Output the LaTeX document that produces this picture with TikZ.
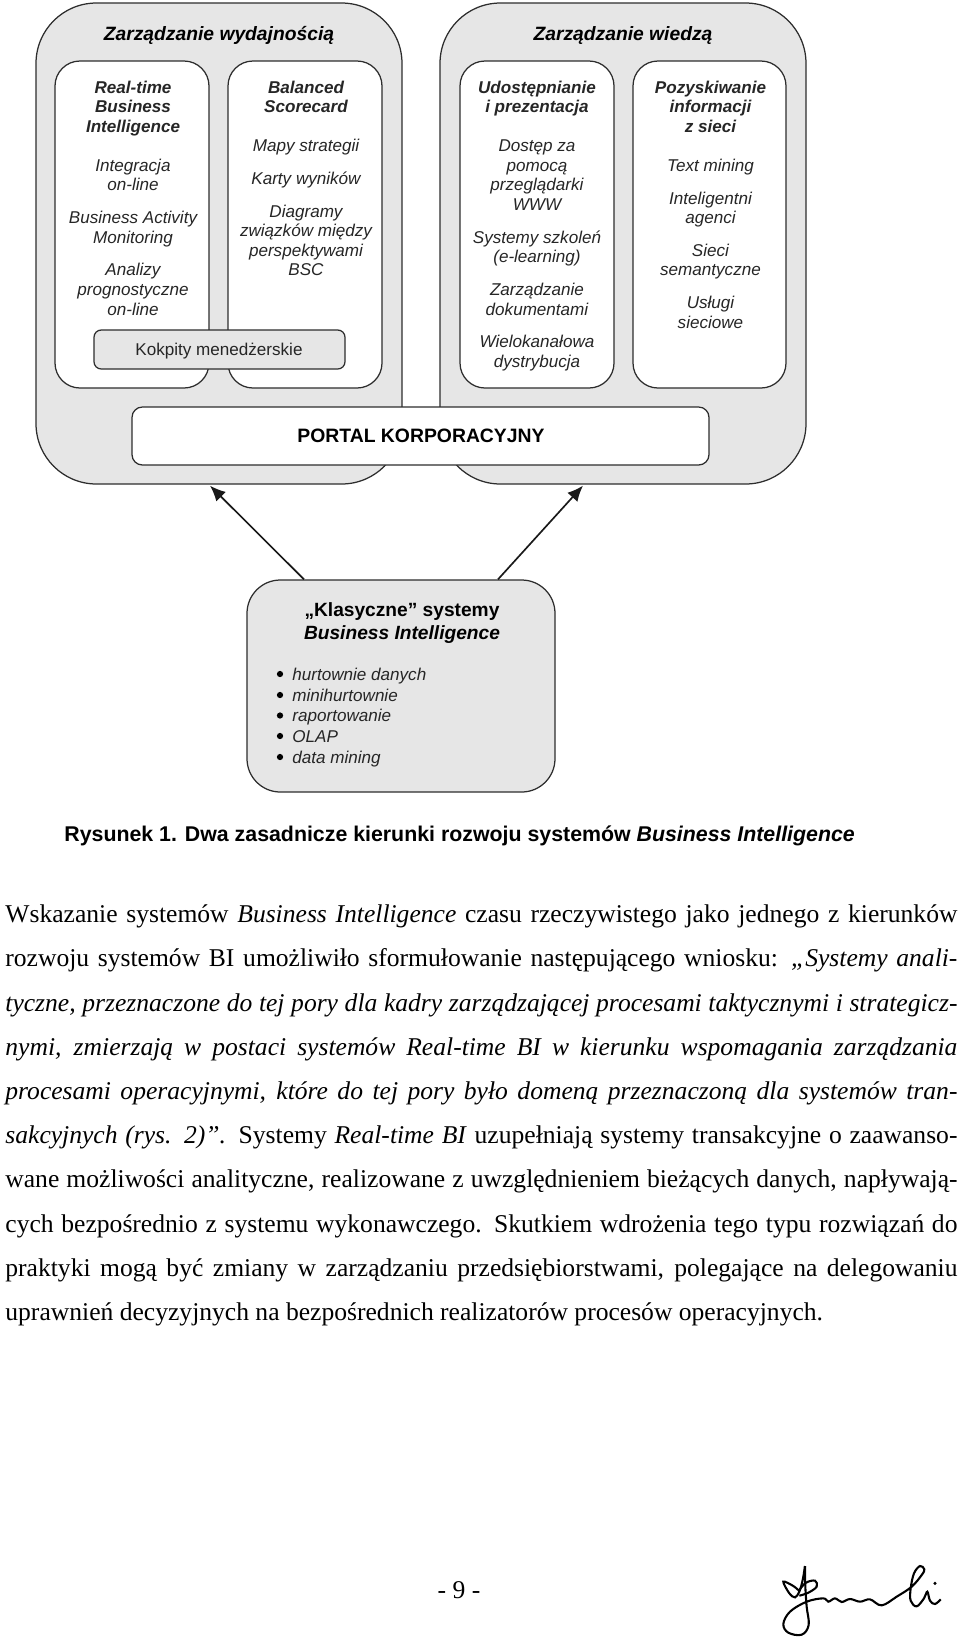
\documentclass[tikz,border=0pt]{standalone}
\usepackage{fontspec}
\setmainfont{Liberation Serif}
\setsansfont{Liberation Sans}
\usepackage{xcolor}
\usetikzlibrary{arrows.meta, calc, fit}
\definecolor{panelgray}{RGB}{230,230,230}
\definecolor{edgegray}{RGB}{45,45,45}
\newcommand{\bodyline}[1]{\makebox[457pt][s]{#1}}
\tikzset{
  panelbox/.style={draw=edgegray, fill=panelgray, line width=0.6pt, rounded corners=29pt, inner sep=0pt},
  innerbox/.style={draw=edgegray, fill=white, line width=0.6pt, rounded corners=12pt, inner sep=0pt},
  panelhead/.style={font=\sffamily\fontsize{9.25}{11}\selectfont\bfseries\itshape, text=black},
  itemtext/.style={anchor=north, align=center, inner sep=0pt, font=\sffamily\fontsize{8.2}{9.4}\selectfont\itshape, text=black!85},
  listtext/.style={anchor=base west, inner sep=0pt, font=\sffamily\fontsize{8.2}{9.4}\selectfont\itshape, text=black!85},
  biarrow/.style={-{Latex[length=7.5pt, width=6.5pt]}, line width=0.8pt, black!90},
}
\begin{document}
\begin{tikzpicture}[x=0.48pt, y=-0.48pt]
  \useasboundingbox (0,0) rectangle (960,1637);
  % outer panels
  \node[panelbox, fit={(36,3) (402,484)}] (wydajnosc) {};
  \node[panelbox, fit={(440,3) (806,484)}] (wiedza) {};
  \node[panelhead] (wydajnoschead) at (219,35) {Zarządzanie wydajnością};
  \node[panelhead] (wiedzahead) at (623,36) {Zarządzanie wiedzą};
  % inner boxes
  \node[innerbox, fit={(55,61) (209,388)}] (rtbi) {};
  \node[innerbox, fit={(228,61) (382,388)}] (bsc) {};
  \node[innerbox, fit={(460,61) (614,388)}] (udost) {};
  \node[innerbox, fit={(633,61) (786,388)}] (pozysk) {};
  \node[itemtext] (rtbitext) at ($(rtbi.north)+(1,20)$) {\textbf{Real-time}\\\textbf{Business}\\\textbf{Intelligence}\\[9.3pt]
    Integracja\\on-line\\[6.3pt]
    Business Activity\\Monitoring\\[6.3pt]
    Analizy\\prognostyczne\\on-line};
  \node[itemtext] (bsctext) at ($(bsc.north)+(1,20)$) {\textbf{Balanced}\\\textbf{Scorecard}\\[9.3pt]
    Mapy strategii\\[6.3pt]
    Karty wyników\\[6.3pt]
    Diagramy\\związków między\\perspektywami\\BSC};
  \node[itemtext] (udosttext) at ($(udost.north)+(0,20)$) {\textbf{Udostępnianie}\\\textbf{i prezentacja}\\[9.3pt]
    Dostęp za\\pomocą\\przeglądarki\\WWW\\[6.3pt]
    Systemy szkoleń\\(e-learning)\\[6.3pt]
    Zarządzanie\\dokumentami\\[6.3pt]
    Wielokanałowa\\dystrybucja};
  \node[itemtext] (pozysktext) at ($(pozysk.north)+(1,20)$) {\textbf{Pozyskiwanie}\\\textbf{informacji}\\\textbf{z sieci}\\[9.3pt]
    Text mining\\[6.3pt]
    Inteligentni\\agenci\\[6.3pt]
    Sieci\\semantyczne\\[6.3pt]
    Usługi\\sieciowe};
  % overlapping bars
  \node[draw=edgegray, fill=panelgray, line width=0.6pt, rounded corners=3.5pt, inner sep=0pt, fit={(94,330) (345,369)}] (kokpity) {};
  \node[inner sep=0pt, font=\sffamily\fontsize{8.2}{9.4}\selectfont, text=black!85] (kokpitytext) at (219,351) {Kokpity menedżerskie};
  \node[draw=edgegray, fill=white, line width=0.6pt, rounded corners=5pt, inner sep=0pt, fit={(132,407) (709,465)}] (portal) {};
  \node[inner sep=0pt, font=\sffamily\fontsize{9.3}{11}\selectfont\bfseries] (portaltext) at (421,436) {PORTAL KORPORACYJNY};
  % classic BI
  \node[panelbox, rounded corners=16pt, fit={(247,580) (555,792)}] (klasyczne) {};
  \node[anchor=north, align=center, inner sep=0pt, font=\sffamily\fontsize{9.2}{11.2}\selectfont\bfseries] (klasycznehead) at (402,602) {„Klasyczne” systemy\\\textit{Business Intelligence}};
  \foreach \n/\y/\t in {1/680/hurtownie danych, 2/701/minihurtownie, 3/721.5/raportowanie, 4/742/OLAP, 5/763/data mining} {
    \node[listtext] (item\n) at (292,\y) {\t};
    \fill[black] ($(item\n.base west)+(-12,-6)$) circle (1.5pt);
  }
  \draw[biarrow] ($(klasyczne.north)+(-97,0)$) -- ($(wydajnosc.south)+(-9,1)$);
  \draw[biarrow] ($(klasyczne.north)+(97,0)$) -- ($(wiedza.south)+(-40,1)$);
  % caption and text
  \node[anchor=west, inner sep=0pt, font=\sffamily\fontsize{10.24}{12}\selectfont\bfseries] (caption) at (64,836) {Rysunek 1. Dwa zasadnicze kierunki rozwoju systemów \textit{Business Intelligence}};
  \node[anchor=north west, inner sep=0pt, align=left, font=\fontsize{12.28}{21.22}\selectfont] (bodytext) at (5,904.5) {%
    \bodyline{Wskazanie systemów \textit{Business Intelligence} czasu rzeczywistego jako jednego z kierunków}\\
    \bodyline{rozwoju systemów BI umożliwiło sformułowanie następującego wniosku: \textit{„Systemy anali-}}\\
    \bodyline{\textit{tyczne, przeznaczone do tej pory dla kadry zarządzającej procesami taktycznymi i strategicz-}}\\
    \bodyline{\textit{nymi, zmierzają w postaci systemów Real-time BI w kierunku wspomagania zarządzania}}\\
    \bodyline{\textit{procesami operacyjnymi, które do tej pory było domeną przeznaczoną dla systemów tran-}}\\
    \bodyline{\textit{sakcyjnych (rys. 2)”.} Systemy \textit{Real-time BI} uzupełniają systemy transakcyjne o zaawanso-}\\
    \bodyline{wane możliwości analityczne, realizowane z uwzględnieniem bieżących danych, napływają-}\\
    \bodyline{cych bezpośrednio z systemu wykonawczego. Skutkiem wdrożenia tego typu rozwiązań do}\\
    \bodyline{praktyki mogą być zmiany w zarządzaniu przedsiębiorstwami, polegające na delegowaniu}\\
    uprawnień decyzyjnych na bezpośrednich realizatorów procesów operacyjnych.};
  \node[inner sep=0pt, font=\fontsize{12.28}{14}\selectfont] (pagenum) at (459,1590) {- 9 -};
  % signature
  \begin{scope}[shift={(700,1530)}, x=0.16pt, y=-0.16pt, line width=1pt, black]
    \draw[smooth, tension=0.55] plot coordinates {(315,108) (308,150) (298,185) (285,202) (268,190) (250,155) (280,168) (300,185)};
    \draw[smooth, tension=0.6] plot coordinates {(298,180) (318,158) (345,152) (350,170) (325,188) (298,197)};
    \draw[smooth, tension=0.6] plot coordinates {(315,108) (316,170) (320,230) (326,285) (305,314) (265,308) (250,282) (270,245) (320,215) (370,205) (385,215) (405,205) (425,216) (450,207) (480,215) (510,208) (545,226) (590,200) (635,170) (665,135) (673,118) (660,108) (642,130) (632,175) (632,212) (650,229) (672,205) (682,185) (690,212) (705,222) (722,208)};
    \fill (705,160) circle (0.8pt);
  \end{scope}
\end{tikzpicture}
\end{document}
